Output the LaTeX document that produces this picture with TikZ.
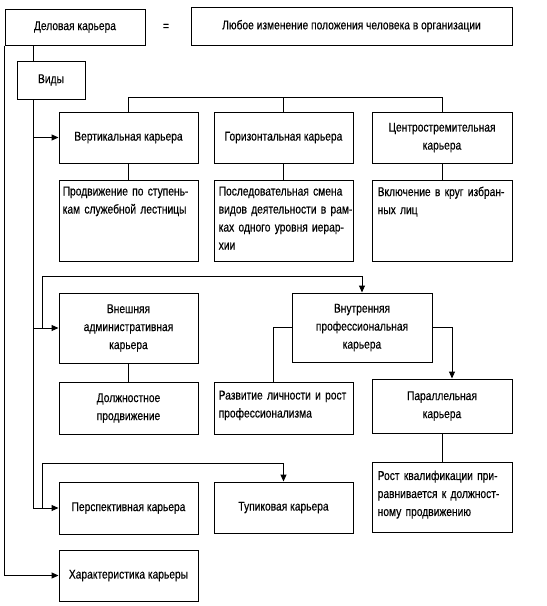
\documentclass[tikz,border=0pt]{standalone}
\usepackage{fontspec}
\setmainfont{Liberation Sans}[FakeStretch=0.8,FakeBold=0.4]
\usetikzlibrary{arrows.meta}
\begin{document}
\begin{tikzpicture}[x=1pt,y=-1pt,
  every node/.style={font=\fontsize{12.8}{18}\selectfont},
  box/.style={draw, line width=1pt, inner sep=0pt, align=center},
  txt/.style={anchor=north west, inner sep=0pt, text width=129pt, align=left},
  ln/.style={line width=1pt},
  arr/.style={line width=1pt, -{Triangle[length=7pt,width=6pt]}}]
\useasboundingbox (0,0) rectangle (547,606);
% top row
\node[box, minimum width=140pt, minimum height=36pt] (dk) at (75,27) {Деловая карьера};
\node (eq) at (166,27) {=};
\node[box, minimum width=321pt, minimum height=38pt] (def) at (351.5,26) {Любое изменение положения человека в организации};
\node[box, minimum width=68pt, minimum height=38pt] (vid) at (51,80) {Виды};
% kinds
\node[box, minimum width=139pt, minimum height=51pt] (vk) at (128.5,137.5) {Вертикальная карьера};
\node[box, minimum width=139pt, minimum height=51pt] (gk) at (283.5,137.5) {Горизонтальная карьера};
\node[box, minimum width=140pt, minimum height=51pt] (ck) at (442,137.5) {Центростремительная\\карьера};
\node[box, minimum width=139pt, minimum height=81pt] (vkd) at (128.5,220.5) {};
\node[box, minimum width=139pt, minimum height=81pt] (gkd) at (283.5,220.5) {};
\node[box, minimum width=140pt, minimum height=81pt] (ckd) at (442,220.5) {};
\node[txt] (vkdt) at ([xshift=4pt,yshift=-7pt]vkd.north west) {\makebox[\linewidth][s]{Продвижение по ступень-}\\кам служебной лестницы};
\node[txt] (gkdt) at ([xshift=5pt,yshift=-7pt]gkd.north west) {\makebox[\linewidth][s]{Последовательная смена}\\\makebox[\linewidth][s]{видов деятельности в рам-}\\\makebox[\linewidth][s]{ках одного уровня иерар-}\\хии};
\node[txt] (ckdt) at ([xshift=6pt,yshift=-7pt]ckd.north west) {\makebox[\linewidth][s]{Включение в круг избран-}\\ных лиц};
% second block
\node[box, minimum width=139pt, minimum height=70pt] (vn) at (128.5,328) {Внешняя\\административная\\карьера};
\node[box, minimum width=140pt, minimum height=69pt] (vt) at (362,327.5) {Внутренняя\\профессиональная\\карьера};
\node[box, minimum width=139pt, minimum height=52pt] (dp) at (128.5,408) {Должностное\\продвижение};
\node[box, minimum width=139pt, minimum height=52pt] (rl) at (283.5,408) {};
\node[txt] (rlt) at ([xshift=5pt,yshift=-9pt]rl.north west) {\makebox[\linewidth][s]{Развитие личности и рост}\\профессионализма};
\node[box, minimum width=140pt, minimum height=54pt] (pk) at (442,406) {Параллельная\\карьера};
\node[box, minimum width=140pt, minimum height=70pt] (rk) at (442,497) {};
\node[txt] (rkt) at ([xshift=6pt,yshift=-9pt]rk.north west) {\makebox[\linewidth][s]{Рост квалификации при-}\\\makebox[\linewidth][s]{равнивается к должност-}\\ному продвижению};
% third block
\node[box, minimum width=139pt, minimum height=52pt] (pers) at (128.5,508) {Перспективная карьера};
\node[box, minimum width=139pt, minimum height=51pt] (tup) at (283.5,507.5) {Тупиковая карьера};
\node[box, minimum width=139pt, minimum height=51pt] (har) at (128.5,575.5) {Характеристика карьеры};
% helper coordinates
\coordinate (sp) at (33,0);
\coordinate (sq) at (42,0);
\coordinate (b1) at (0,97);
\coordinate (b2) at (0,276);
\coordinate (b3) at (0,463);
\coordinate (c1) at (273,0);
\coordinate (c2) at (452,0);
% connectors
\draw[ln] (sp |- dk.south) -- (sp |- vid.north);
\draw[ln] (sp |- vid.south) -- (sp |- pers.west);
\draw[arr] (sp |- vk.west) -- (vk.west);
\draw[arr] (sp |- vn.west) -- (vn.west);
\draw[arr] (sp |- pers.west) -- (pers.west);
\draw[arr] (dk.south west) -- (dk.south west |- har.west) -- (har.west);
\draw[ln] (vk.north) |- (b1 -| ck.north) -- (ck.north);
\draw[ln] (gk.north) -- (gk.north |- b1);
\draw[ln] (vk.south) -- (vkd.north);
\draw[ln] (gk.south) -- (gkd.north);
\draw[ln] (ck.south) -- (ckd.north);
\draw[arr] (sq |- vn.west) -- (sq |- b2) -| (vt.north);
\draw[ln] (vn.south) -- (dp.north);
\draw[ln] (vt.west) -| (c1 |- rl.north);
\draw[arr] (vt.east) -| (c2 |- pk.north);
\draw[ln] (pk.south) -- (rk.north);
\draw[arr] (sq |- pers.west) -- (sq |- b3) -| (tup.north);
\end{tikzpicture}
\end{document}
